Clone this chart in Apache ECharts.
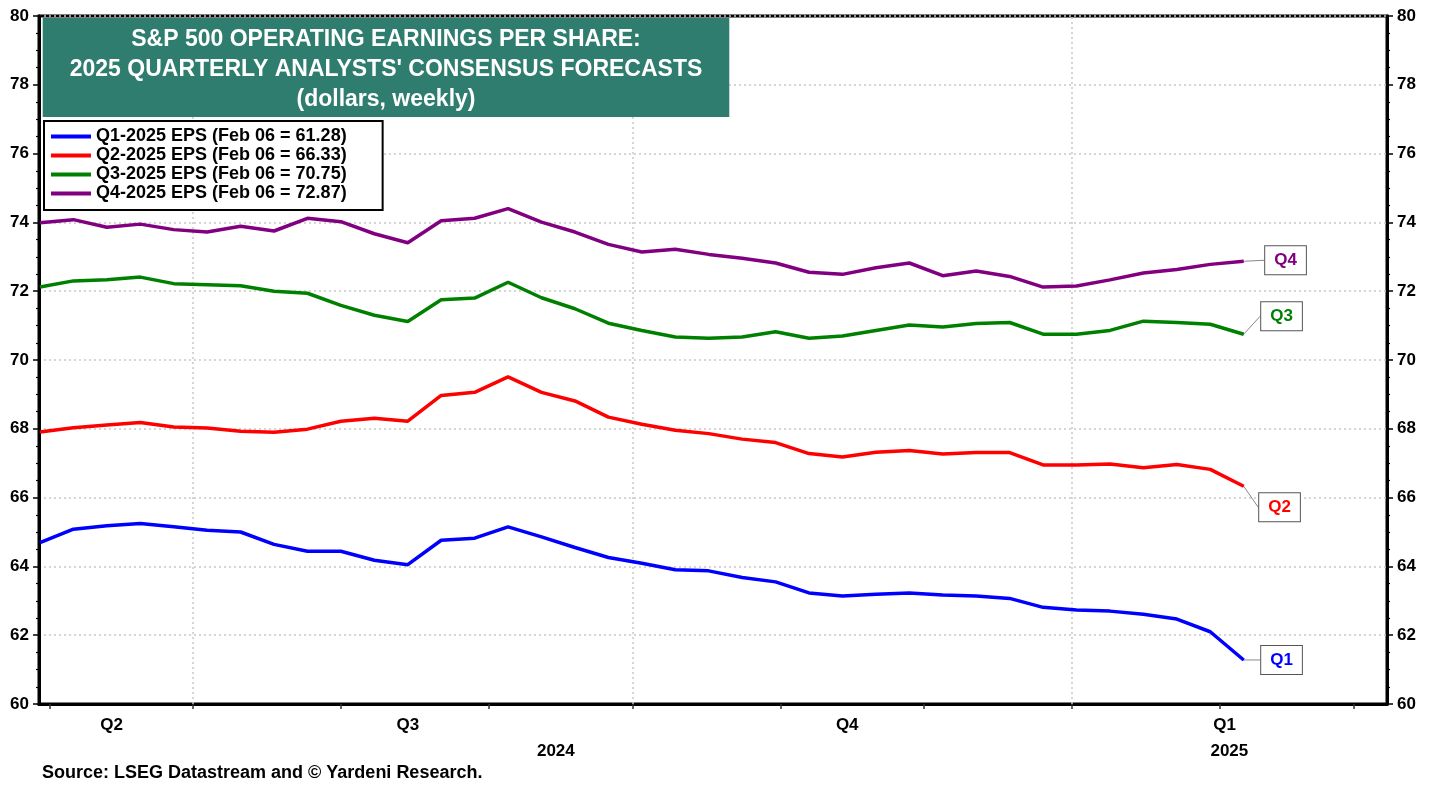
<!DOCTYPE html>
<html>
<head>
<meta charset="utf-8">
<title>S&P 500 operating EPS - 2025 quarterly consensus</title>
<script src="https://cdn.jsdelivr.net/npm/echarts@6/dist/echarts.min.js"></script>
<style>
  html, body { margin: 0; padding: 0; background: #fff; }
  #chart { width: 1438px; height: 787px; }
</style>
</head>
<body>
<div id="chart"></div>
<script>
// weekly consensus dates (Thursdays)
var weeks = [
  '2024-05-30', '2024-06-06', '2024-06-13', '2024-06-20', '2024-06-27',
  '2024-07-04', '2024-07-11', '2024-07-18', '2024-07-25',
  '2024-08-01', '2024-08-08', '2024-08-15', '2024-08-22', '2024-08-29',
  '2024-09-05', '2024-09-12', '2024-09-19', '2024-09-26',
  '2024-10-03', '2024-10-10', '2024-10-17', '2024-10-24', '2024-10-31',
  '2024-11-07', '2024-11-14', '2024-11-21', '2024-11-28',
  '2024-12-05', '2024-12-12', '2024-12-19', '2024-12-26',
  '2025-01-02', '2025-01-09', '2025-01-16', '2025-01-23', '2025-01-30',
  '2025-02-06'
];
var q1Eps = [64.69, 65.08, 65.18, 65.25, 65.15, 65.05, 65.00, 64.64, 64.44, 64.44, 64.18, 64.05, 64.76, 64.82, 65.15, 64.86, 64.55, 64.26, 64.09, 63.90, 63.87, 63.68, 63.55, 63.23, 63.14, 63.19, 63.23, 63.17, 63.14, 63.07, 62.81, 62.73, 62.70, 62.61, 62.47, 62.10, 61.28];
var q2Eps = [67.91, 68.03, 68.11, 68.18, 68.05, 68.02, 67.93, 67.90, 67.99, 68.22, 68.31, 68.22, 68.97, 69.06, 69.51, 69.06, 68.81, 68.34, 68.13, 67.96, 67.86, 67.70, 67.60, 67.28, 67.18, 67.32, 67.37, 67.27, 67.31, 67.31, 66.95, 66.95, 66.98, 66.87, 66.96, 66.82, 66.33];
var q3Eps = [72.12, 72.30, 72.33, 72.41, 72.22, 72.19, 72.16, 72.00, 71.94, 71.59, 71.30, 71.12, 71.75, 71.80, 72.26, 71.81, 71.49, 71.07, 70.86, 70.67, 70.63, 70.67, 70.82, 70.63, 70.70, 70.86, 71.02, 70.96, 71.06, 71.09, 70.75, 70.75, 70.86, 71.13, 71.09, 71.04, 70.75];
var q4Eps = [73.99, 74.08, 73.86, 73.95, 73.79, 73.72, 73.89, 73.75, 74.12, 74.02, 73.67, 73.41, 74.05, 74.12, 74.40, 74.01, 73.72, 73.36, 73.14, 73.22, 73.07, 72.96, 72.82, 72.55, 72.49, 72.68, 72.82, 72.45, 72.59, 72.43, 72.12, 72.15, 72.33, 72.53, 72.63, 72.78, 72.87];

var seriesNames = [
  'Q1-2025 EPS (Feb 06 = 61.28)',
  'Q2-2025 EPS (Feb 06 = 66.33)',
  'Q3-2025 EPS (Feb 06 = 70.75)',
  'Q4-2025 EPS (Feb 06 = 72.87)'
];
var endTags = ['Q1', 'Q2', 'Q3', 'Q4'];
var colors = ['#0000ff', '#ff0000', '#008000', '#800080'];

// x axis: month ticks, quarter gridlines, quarter / year labels
var monthTicks = ['2024-06-01', '2024-07-01', '2024-08-01', '2024-09-01', '2024-10-01',
  '2024-11-01', '2024-12-01', '2025-01-01', '2025-02-01', '2025-03-01'];
var quarterStarts = ['2024-07-01', '2024-10-01', '2025-01-01'];
var quarterLabels = ['Q2', 'Q3', 'Q4', 'Q1'];
var quarterLabelDates = ['2024-06-14', '2024-08-15', '2024-11-15', '2025-02-02'];
var yearLabels = ['2024', '2025'];
var yearLabelDates = ['2024-09-15', '2025-02-03'];

var titleLines = [
  'S&P 500 OPERATING EARNINGS PER SHARE:',
  "2025 QUARTERLY ANALYSTS' CONSENSUS FORECASTS",
  '(dollars, weekly)'
];
var FONT = '"Liberation Sans", Arial, sans-serif';
var DAY = 86400000;

function ts(s) {
  var p = s.split('-');
  return new Date(+p[0], +p[1] - 1, +p[2]).getTime();
}
function lookup(dates, labels) {
  var m = {};
  dates.forEach(function (d, i) { m[ts(d)] = labels[i]; });
  return function (v) { return m[v] || ''; };
}

var xMin = ts('2024-05-30') - 0.2 * DAY;
var xMax = ts('2025-03-08');

var chart = echarts.init(document.getElementById('chart'));

var labelShift = [
  { dx: 0, dy: 0 },
  { dx: -2, dy: 21 },
  { dx: 0, dy: -18 },
  { dx: 4, dy: -1 }
];

var series = [q1Eps, q2Eps, q3Eps, q4Eps].map(function (vals, k) {
  var last = vals.length - 1;
  return {
    name: seriesNames[k],
    type: 'line',
    z: 3,
    symbol: 'none',
    showSymbol: true,
    lineStyle: { color: colors[k], width: 3.5 },
    itemStyle: { color: colors[k] },
    emphasis: { disabled: true },
    data: vals.map(function (v, i) {
      if (i === last) {
        return { value: [ts(weeks[i]), v], symbol: 'circle', symbolSize: 1, label: { show: true } };
      }
      return [ts(weeks[i]), v];
    }),
    label: {
      show: false,
      position: 'right',
      distance: 17,
      formatter: endTags[k],
      color: colors[k],
      fontFamily: FONT,
      fontWeight: 'bold',
      fontSize: 17,
      backgroundColor: '#fff',
      borderColor: '#555',
      borderWidth: 1,
      padding: [6, 9, 5, 9]
    },
    labelLayout: labelShift[k],
    labelLine: { show: true, lineStyle: { color: '#888', width: 1 } }
  };
});

// dotted quarter gridlines
series.push({
  name: 'quarters',
  type: 'line',
  z: 1,
  data: [],
  markLine: {
    silent: true,
    z: 1,
    symbol: 'none',
    label: { show: false },
    lineStyle: { color: '#c8c8c8', type: [2, 3], width: 1.5 },
    data: quarterStarts.map(function (d) { return { xAxis: ts(d) }; })
  }
});

var yAxisBase = {
  type: 'value',
  min: 60,
  max: 80,
  interval: 2,
  axisLine: { show: true, lineStyle: { color: '#000', width: 3 } },
  axisTick: { show: true, length: 6, lineStyle: { color: '#000', width: 1.5 } },
  minorTick: { show: true, splitNumber: 4, length: 3, lineStyle: { color: '#000', width: 1.2 } },
  axisLabel: { color: '#000', fontFamily: FONT, fontWeight: 'bold', fontSize: 17, margin: 10 }
};

var option = {
  animation: false,
  backgroundColor: '#fff',
  color: colors,
  title: [
    {
      text: titleLines.join('\n'),
      left: 359,
      top: 18,
      textAlign: 'center',
      backgroundColor: '#2e7d6e',
      padding: [7, 27, 2, 27],
      textStyle: { color: '#fff', fontFamily: FONT, fontWeight: 'bold', fontSize: 23, lineHeight: 30 }
    },
    {
      text: 'Source: LSEG Datastream and \u00a9 Yardeni Research.',
      left: 42,
      top: 764,
      padding: 0,
      textStyle: { color: '#000', fontFamily: FONT, fontWeight: 'bold', fontSize: 18 }
    }
  ],
  legend: {
    data: seriesNames,
    orient: 'vertical',
    left: 44,
    top: 121,
    icon: 'rect',
    itemWidth: 40,
    itemHeight: 4,
    itemGap: 0,
    selectedMode: false,
    backgroundColor: '#fff',
    borderColor: '#000',
    borderWidth: 2,
    padding: [6, 36, 7, 7],
    textStyle: { color: '#000', fontFamily: FONT, fontWeight: 'bold', fontSize: 18, lineHeight: 19 }
  },
  grid: {
    left: 39,
    right: 51,
    top: 16,
    bottom: 83,
    show: true,
    borderColor: '#000',
    borderWidth: 3,
    backgroundColor: 'transparent'
  },
  xAxis: [
    {
      type: 'value',
      min: xMin,
      max: xMax,
      position: 'bottom',
      axisLine: { show: true, lineStyle: { color: '#000', width: 3 } },
      axisTick: {
        show: true,
        customValues: monthTicks.map(ts),
        length: 5,
        lineStyle: { color: '#333', width: 1.5 }
      },
      axisLabel: {
        customValues: quarterLabelDates.map(ts),
        formatter: lookup(quarterLabelDates, quarterLabels),
        color: '#000',
        fontFamily: FONT,
        fontWeight: 'bold',
        fontSize: 17,
        margin: 13
      },
      splitLine: { show: false }
    },
    {
      type: 'value',
      min: xMin,
      max: xMax,
      position: 'bottom',
      axisLine: { show: false },
      axisTick: { show: false },
      axisLabel: {
        customValues: yearLabelDates.map(ts),
        formatter: lookup(yearLabelDates, yearLabels),
        color: '#000',
        fontFamily: FONT,
        fontWeight: 'bold',
        fontSize: 17,
        margin: 39
      },
      splitLine: { show: false }
    }
  ],
  yAxis: [
    Object.assign({}, yAxisBase, {
      position: 'left',
      splitLine: { show: true, lineStyle: { color: '#c8c8c8', type: [2, 3], width: 1.5 } }
    }),
    Object.assign({}, yAxisBase, {
      position: 'right',
      splitLine: { show: false }
    })
  ],
  series: series
};

chart.setOption(option);
</script>
</body>
</html>
